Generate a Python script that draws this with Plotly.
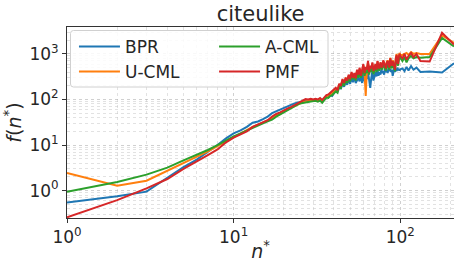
import plotly.graph_objects as go

x_head = list(range(1, 101))
x_tail = [103, 106, 109, 112, 116, 120, 125, 132, 150, 178, 210]
n_star = x_head + x_tail

bpr = [0.55, 0.75, 0.95, 1.9, 3.3, 4.8, 7.0, 10, 14, 18,
       21, 25, 31, 33, 37, 42, 50, 55, 60, 66,
       72, 77, 81, 85, 88, 90, 93, 96, 94, 98,
       100, 96, 100, 92, 105, 115, 112, 125, 120, 135,
       160, 150, 190, 170, 230, 190, 250, 210, 280, 220,
       300, 240, 320, 230, 260, 300, 250, 340, 230, 380,
       250, 300, 280, 400, 270, 180, 300, 420, 260, 360,
       400, 320, 450, 330, 400, 350, 460, 380, 420, 350,
       480, 400, 450, 380, 500, 420, 470, 400, 450, 330,
       420, 480, 400, 460, 420, 500, 440, 470, 430, 460,
       480, 420, 520, 430, 540, 450, 500, 400, 410, 390, 620]

ucml = [2.45, 1.28, 1.65, 2.7, 4.0, 5.5, 7.3, 9.5, 12, 15,
        18, 21, 25, 28, 31, 34, 38, 44, 48, 55,
        60, 66, 72, 78, 84, 88, 90, 92, 95, 96,
        98, 94, 100, 92, 105, 118, 120, 130, 135, 150,
        170, 165, 210, 210, 260, 240, 290, 270, 330, 290,
        380, 310, 360, 300, 430, 340, 470, 340, 400, 560,
        390, 120, 430, 650, 420, 530, 470, 620, 400, 480,
        580, 440, 680, 500, 470, 640, 540, 520, 700, 600,
        560, 500, 660, 720, 620, 520, 820, 680, 580, 720,
        640, 540, 500, 820, 1000, 740, 650, 900, 1050, 950,
        950, 1000, 1050, 950, 1100, 1000, 1050, 1000, 1000, 2550, 1750]

acml = [0.95, 1.55, 2.25, 3.2, 4.6, 6.1, 7.8, 10, 12.8, 15.5,
        18, 21, 24, 27, 30, 33, 36, 42, 47, 54,
        60, 65, 70, 76, 82, 85, 86, 88, 90, 92,
        94, 90, 95, 85, 100, 110, 108, 120, 125, 140,
        150, 140, 190, 180, 240, 200, 270, 230, 300, 250,
        350, 280, 330, 260, 380, 300, 420, 300, 360, 480,
        330, 430, 380, 560, 350, 470, 400, 550, 360, 450,
        520, 400, 600, 450, 430, 560, 480, 450, 620, 520,
        480, 430, 560, 620, 520, 450, 700, 560, 480, 600,
        520, 450, 420, 700, 850, 620, 550, 750, 900, 820,
        700, 850, 650, 800, 900, 800, 850, 820, 850, 2250, 1450]

pmf = [0.26, 0.62, 1.12, 1.8, 3.0, 4.3, 6.0, 8.0, 11.5, 14.5,
       17, 20, 25, 28, 31, 35, 42, 48, 52, 58,
       63, 68, 73, 80, 88, 95, 102, 100, 104, 100,
       104, 100, 108, 98, 112, 125, 128, 140, 150, 165,
       180, 160, 220, 200, 280, 230, 300, 260, 350, 280,
       400, 300, 380, 290, 450, 350, 500, 330, 420, 600,
       380, 520, 450, 700, 400, 550, 480, 650, 420, 500,
       600, 450, 700, 520, 480, 650, 550, 500, 720, 600,
       550, 480, 650, 700, 600, 500, 800, 650, 550, 700,
       600, 500, 450, 800, 950, 700, 600, 850, 1000, 900,
       800, 1000, 750, 900, 1050, 850, 1000, 700, 680, 2900, 1600]

series_names = ["BPR", "U-CML", "A-CML", "PMF"]
series_vals = [bpr, ucml, acml, pmf]
colors = ["#1f77b4", "#ff7f0e", "#2ca02c", "#d62728"]
legend_ids = ["legend", "legend", "legend2", "legend2"]

major_vals = [1, 10, 100, 1000]
x_ticktext = ["10<sup>0</sup>", "10<sup>1</sup>", "10<sup>2</sup>"]
y_ticktext = ["10<sup>0</sup>", "10<sup>1</sup>", "10<sup>2</sup>", "10<sup>3</sup>"]
minor_vals = [m * 10 ** e for e in range(-1, 4) for m in range(2, 10)]

fig = go.Figure()
for name, vals, col, lg in zip(series_names, series_vals, colors, legend_ids):
    fig.add_trace(go.Scatter(x=n_star, y=vals, mode="lines", name=name,
                             line=dict(color=col, width=2), legend=lg))

FONT = "DejaVu Sans"
TXT = "#262626"
grid_major = "rgba(170,170,170,0.55)"
grid_minor = "rgba(190,190,190,0.45)"

# legend frame (rounded rectangle in paper coords)
W, H = 387.0, 191.0
px0, px1, py0, py1 = 70.5 - 67, 328 - 67, 218 - 87, 218 - 30.5
r = 3.0
def fx(v):
    return v / W
def fy(v):
    return v / H
path = (f"M {fx(px0 + r)},{fy(py0)} L {fx(px1 - r)},{fy(py0)} "
        f"Q {fx(px1)},{fy(py0)} {fx(px1)},{fy(py0 + r)} "
        f"L {fx(px1)},{fy(py1 - r)} Q {fx(px1)},{fy(py1)} {fx(px1 - r)},{fy(py1)} "
        f"L {fx(px0 + r)},{fy(py1)} Q {fx(px0)},{fy(py1)} {fx(px0)},{fy(py1 - r)} "
        f"L {fx(px0)},{fy(py0 + r)} Q {fx(px0)},{fy(py0)} {fx(px0 + r)},{fy(py0)} Z")
fig.add_shape(type="path", path=path, xref="paper", yref="paper",
              fillcolor="rgba(255,255,255,0.85)", line=dict(color="#d0d0d0", width=1),
              layer="above")

legend_common = dict(bgcolor="rgba(0,0,0,0)", borderwidth=0,
                     font=dict(size=17, family=FONT, color=TXT),
                     xanchor="left", yanchor="top", tracegroupgap=0, itemwidth=41)

fig.update_layout(
    width=454, height=262,
    margin=dict(l=67, r=0, t=27, b=44, autoexpand=False),
    paper_bgcolor="white", plot_bgcolor="white",
    font=dict(family=FONT, color=TXT, size=17),
    title=dict(text="citeulike", x=0.574, xanchor="center", yref="container",
               y=0.947, yanchor="middle",
               font=dict(size=21, family=FONT, color=TXT)),
    showlegend=True,
    legend=dict(x=0.018, y=0.99, **legend_common),
    legend2=dict(x=0.38, y=0.99, **legend_common),
    xaxis=dict(type="log", range=[0, 2.3222], tickvals=major_vals[:3], ticktext=x_ticktext,
               showline=True, linecolor="#333333", linewidth=1, mirror=True,
               ticks="outside", ticklen=4, tickcolor="#333333",
               showgrid=True, gridcolor=grid_major, griddash="dot", gridwidth=1,
               minor=dict(tickvals=minor_vals, showgrid=True, gridcolor=grid_minor,
                          griddash="dot", ticks=""),
               tickfont=dict(size=17), automargin=False,
               title=dict(text="<i>n</i><sup>*</sup>", font=dict(size=19), standoff=7),
               zeroline=False),
    yaxis=dict(type="log", range=[-0.6, 3.59], tickvals=major_vals, ticktext=y_ticktext,
               showline=True, linecolor="#333333", linewidth=1, mirror=True,
               ticks="outside", ticklen=4, tickcolor="#333333",
               showgrid=True, gridcolor=grid_major, griddash="dot", gridwidth=1,
               minor=dict(tickvals=minor_vals, showgrid=True, gridcolor=grid_minor,
                          griddash="dot", ticks=""),
               tickfont=dict(size=17), automargin=False,
               title=dict(text="<i>f</i>(<i>n</i><sup>*</sup>)", font=dict(size=19), standoff=2),
               zeroline=False),
)

fig.write_html("out.html", config={"displayModeBar": False},
               post_script="document.body.style.margin='0';document.body.style.padding='0';")
